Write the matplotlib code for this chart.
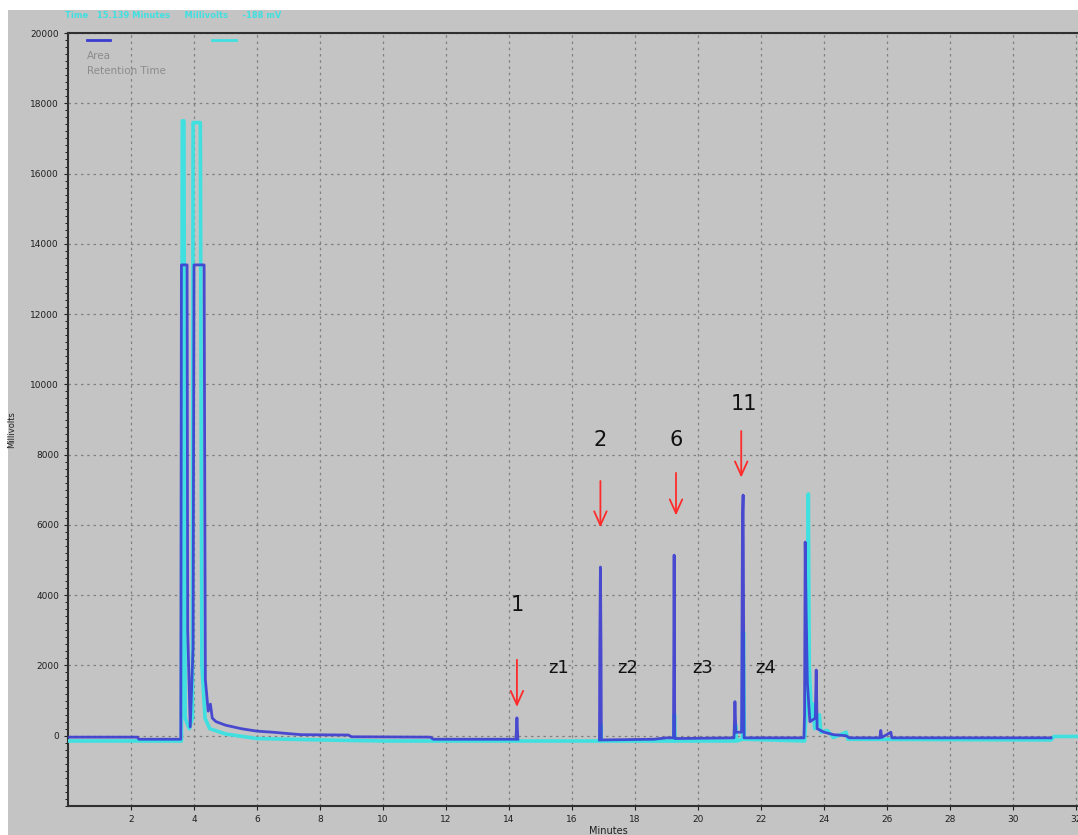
import numpy as np
import matplotlib
matplotlib.use('Agg')
import matplotlib.pyplot as plt
from matplotlib.patches import Rectangle
from matplotlib.ticker import MultipleLocator

nan = np.nan

# trace 1 (blue): retention time in minutes, signal in millivolts
blue_time = [0.0, 2.2, 2.25, 3.58, 3.60, 3.78, 3.80, 3.88, 3.97, 4.00, 4.32,
             4.36, 4.45, 4.52, 4.58, 4.7, 5.0, 5.5, 6.0, 6.5, 7.0, 7.4, 8.9,
             9.0, 11.5, 11.6, 14.22, 14.25, 14.28, 14.3,
             16.87, 16.88, 16.90, 16.92, 16.93,
             18.6, 19.0, 19.22, 19.24, 19.26, 21.14, 21.17, 21.2, 21.38, 21.41,
             21.43, 21.46, 23.36, 23.38, 23.40, 23.43, 23.47, 23.55, 23.72,
             23.75, 23.78, 24.0, 24.3, 24.7, 24.8, 25.77, 25.8, 25.83, 26.12,
             26.15, 31.2]
blue_mv = [-40, -40, -100, -100, 13400, 13400, 3000, 250, 2500, 13400, 13400,
           1600, 700, 900, 500, 400, 300, 200, 130, 100, 60, 30, 20,
           -30, -40, -100, -100, 510, -100, nan,
           -120, 2450, 4800, 2400, -120,
           -100, -60, -60, 5140, -80, -60, 970, 100, 100, 6220,
           6850, -60, -60, 600, 5510, 3580, 1500, 400, 500,
           1870, 200, 100, 30, 0, -60, -60, 150, -50, 100,
           -60, -60]

# trace 2 (cyan)
cyan_time = [0.0, 3.60, 3.63, 3.68, 3.72, 3.85, 3.95, 3.97, 4.20, 4.25, 4.35,
             4.5, 5.0, 6.0, 8.0, 10.0, 16.89, 16.91, 16.93, 19.23, 19.25,
             19.27, 21.16, 21.19, 21.22, 21.41, 21.44, 21.47, 23.38, 23.45,
             23.5, 23.53, 23.6, 23.65, 23.7, 23.85, 23.9, 24.1, 24.3, 24.7,
             24.75, 31.2, 31.3, 32.1]
cyan_mv = [-150, -150, 17500, 17500, 500, 200, 500, 17450, 17450, 2000, 500,
           200, 50, -80, -120, -150, -150, 300, -150, -150, 600,
           -150, -150, 300, -150, -100, 2950, -100, -150, 1000,
           6880, 2000, 500, 900, 200, 600, 100, 150, -50, 100,
           -100, -120, -20, -20]

peak_labels = ['1', '2', '6', '11']
peak_label_pos = [(14.25, 3720), (16.88, 8410), (19.3, 8410), (21.45, 9430)]
arrow_x = [14.25, 16.9, 19.3, 21.37]
arrow_tail = [2240, 7330, 7560, 8750]
arrow_head = [740, 5850, 6190, 7270]

zone_labels = ['z1', 'z2', 'z3', 'z4']
zone_x = [15.56, 17.78, 20.16, 22.16]
zone_y = 1930

grey = '#c4c4c4'
blue = '#3c3cd2'
cyan = '#40e0e0'

fig = plt.figure(figsize=(10.78, 8.35), dpi=100, facecolor='white')
fig.patches.append(Rectangle((8 / 1078, 0), 1, 1 - 10 / 835,
                             transform=fig.transFigure, facecolor=grey,
                             edgecolor='none', zorder=-5))
ax = fig.add_axes([68 / 1078, 1 - 806 / 835, 1 - 68 / 1078, (806 - 33) / 835])
ax.set_facecolor(grey)

ax.plot(cyan_time, cyan_mv, color=cyan, lw=2.6, zorder=3)
ax.plot(blue_time, blue_mv, color=blue, lw=2.0, zorder=4, alpha=0.9)

ax.set_xlim(0, 32.06)
ax.set_ylim(-2000, 20000)
ax.yaxis.set_minor_locator(MultipleLocator(200))
ax.set_xticks(np.arange(2, 33, 2))
ax.set_yticks(np.arange(0, 20001, 2000))
ax.tick_params(axis='both', labelsize=6.5, colors='#202020', length=3)
ax.tick_params(axis='y', which='minor', length=2)
ax.grid(True, which='major', color='#808080', linestyle=(0, (2, 3)), lw=0.9)
for side in ['left', 'top', 'bottom']:
    ax.spines[side].set_color('#303030')
    ax.spines[side].set_linewidth(1.5)
ax.spines['right'].set_visible(False)

# peak annotations
for lab, (lx, ly) in zip(peak_labels, peak_label_pos):
    ax.text(lx, ly, lab, fontsize=15, color='#111111', ha='center', va='center',
            zorder=6)
for x, t, h in zip(arrow_x, arrow_tail, arrow_head):
    ax.annotate('', xy=(x, h), xytext=(x, t),
                arrowprops=dict(arrowstyle='->,head_length=1.0,head_width=0.45',
                                color='#ff2a2a', lw=1.3), zorder=6)
for lab, zx in zip(zone_labels, zone_x):
    ax.text(zx, zone_y, lab, fontsize=13, color='#111111', ha='center',
            va='center', zorder=6)

# legend-like header inside the plot
ax.plot([(87 - 68) / 1010, (110 - 68) / 1010], [1 - 7 / 773, 1 - 7 / 773],
        transform=ax.transAxes, color=blue, lw=2)
ax.plot([(212 - 68) / 1010, (236 - 68) / 1010], [1 - 7 / 773, 1 - 7 / 773],
        transform=ax.transAxes, color=cyan, lw=2)
ax.text((87 - 68) / 1010, 1 - 23 / 773, 'Area', transform=ax.transAxes,
        fontsize=7.5, color='#8c8c8c', va='center')
ax.text((87 - 68) / 1010, 1 - 38 / 773, 'Retention Time', transform=ax.transAxes,
        fontsize=7.5, color='#8c8c8c', va='center')

fig.text(65 / 1078, 1 - 15 / 835, 'Time   15.139 Minutes     Millivolts     -188 mV',
         fontsize=6, color=cyan, va='center', fontweight='bold')
fig.text(12 / 1078, 1 - 430 / 835, 'Millivolts', rotation=90, fontsize=6,
         color='#202020', ha='center', va='center')
fig.text(608 / 1078, 1 - 826 / 835, 'Minutes', fontsize=7, color='#202020',
         ha='center', va='top')

fig.savefig('out.png', dpi=100, facecolor='white')
